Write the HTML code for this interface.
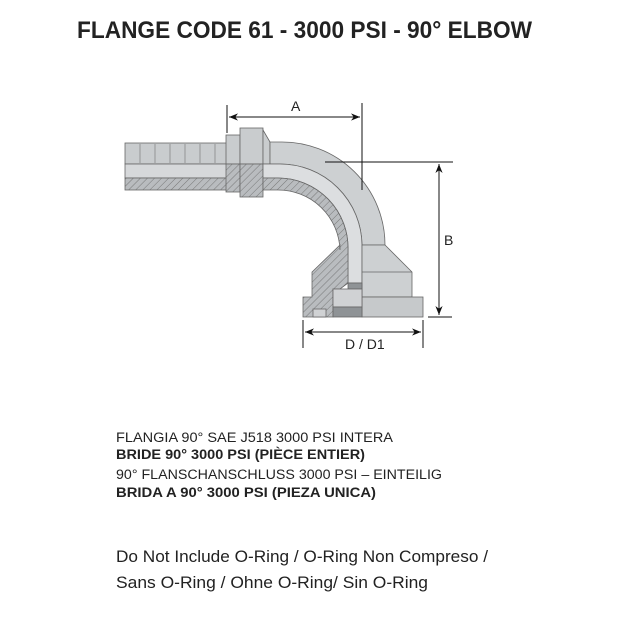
<!DOCTYPE html>
<html><head><meta charset="utf-8"><style>
html,body{margin:0;padding:0;background:#fff;}
svg{display:block;}
</style></head><body>
<svg width="640" height="640" viewBox="0 0 640 640" xmlns="http://www.w3.org/2000/svg">
<defs>
<pattern id="h" width="5" height="5" patternUnits="userSpaceOnUse" patternTransform="rotate(45)">
<rect width="5" height="5" fill="#b9bcbf"/><line x1="0" y1="0" x2="0" y2="5" stroke="#666" stroke-width="0.8"/>
</pattern>
<marker id="ar" viewBox="0 0 10 10" refX="10" refY="5" markerWidth="9" markerHeight="9" orient="auto-start-reverse">
<path d="M0,1 L10,5 L0,9 L3,5 z" fill="#111"/></marker>
</defs>
<text x="77" y="38" font-family="Liberation Sans, sans-serif" font-weight="bold" font-size="24" fill="#222" textLength="455" lengthAdjust="spacingAndGlyphs">FLANGE CODE 61 - 3000 PSI - 90° ELBOW</text>

<g stroke="#666" stroke-width="0.8">
<rect x="125" y="143" width="102" height="21" fill="#c9ccce"/>
<rect x="125" y="164" width="102" height="14" fill="#d6d8da"/>
<rect x="125" y="178" width="102" height="12" fill="url(#h)"/>
<g fill="none" stroke="#888">
<line x1="140" y1="144" x2="140" y2="163"/><line x1="155" y1="144" x2="155" y2="163"/>
<line x1="170" y1="144" x2="170" y2="163"/><line x1="185" y1="144" x2="185" y2="163"/>
<line x1="200" y1="144" x2="200" y2="163"/><line x1="215" y1="144" x2="215" y2="163"/>
</g>
<rect x="226" y="135" width="14" height="29" fill="#c9ccce"/>
<rect x="226" y="164" width="14" height="28" fill="url(#h)"/>
<rect x="240" y="128" width="23" height="36" fill="#c9ccce"/>
<rect x="240" y="164" width="23" height="33" fill="url(#h)"/>
<path d="M263,130 L270,142 L270,164 L263,164z" fill="#c9ccce"/>
<path d="M270,142 L280,142 A103,103 0 0 1 385,245 L362,245 A82,82 0 0 0 280,164 L270,164z" fill="#cdd0d2"/>
<path d="M263,164 L280,164 A82,82 0 0 1 362,245 L362,283 L348,283 L348,250 A70,70 0 0 0 278,178 L263,178z" fill="#dcdee0"/>
<path d="M263,178 L278,178 A70,70 0 0 1 348,250 L348,283 L340,289 L333,289 L333,317 L303,317 L303,297 L312,297 L312,272 L340,245 L340,250 A62,62 0 0 0 278,190 L263,190z" fill="url(#h)"/>
<path d="M362,245 L385,245 L412,272 L412,297 L362,297z" fill="#cdd0d2"/>
<rect x="362" y="297" width="61" height="20" fill="#c6c9cb"/>
<line x1="362" y1="272" x2="412" y2="272"/>
<rect x="348" y="283" width="14" height="6" fill="#8f9396"/>
<rect x="333" y="289" width="29" height="18" fill="#d0d2d4"/>
<rect x="333" y="307" width="29" height="10" fill="#8f9396"/>
<rect x="313" y="309" width="13" height="8" fill="#d0d2d4"/>
</g>

<g stroke="#111" stroke-width="1" fill="none">
<line x1="227" y1="105" x2="227" y2="133"/>
<line x1="362" y1="103" x2="362" y2="190"/>
<line x1="229" y1="117" x2="360" y2="117" marker-start="url(#ar)" marker-end="url(#ar)"/>
<line x1="325" y1="162" x2="453" y2="162"/>
<line x1="428" y1="317" x2="452" y2="317"/>
<line x1="439" y1="164" x2="439" y2="315" marker-start="url(#ar)" marker-end="url(#ar)"/>
<line x1="303" y1="320" x2="303" y2="348"/>
<line x1="423" y1="320" x2="423" y2="348"/>
<line x1="305" y1="332" x2="421" y2="332" marker-start="url(#ar)" marker-end="url(#ar)"/>
</g>
<g font-family="Liberation Sans, sans-serif" font-size="14" fill="#222">
<text x="291" y="111">A</text>
<text x="444" y="245">B</text>
<text x="345" y="349">D / D1</text>
</g>

<g font-family="Liberation Sans, sans-serif" font-size="13.5" fill="#222">
<text x="116" y="442" textLength="277" lengthAdjust="spacingAndGlyphs">FLANGIA 90° SAE J518  3000 PSI INTERA</text>
<text x="116" y="459" font-weight="bold" textLength="249" lengthAdjust="spacingAndGlyphs">BRIDE 90°   3000 PSI (PIÈCE ENTIER)</text>
<text x="116" y="479" textLength="326" lengthAdjust="spacingAndGlyphs">90° FLANSCHANSCHLUSS 3000 PSI – EINTEILIG</text>
<text x="116" y="497" font-weight="bold" textLength="260" lengthAdjust="spacingAndGlyphs">BRIDA  A 90°   3000 PSI (PIEZA UNICA)</text>
</g>
<g font-family="Liberation Sans, sans-serif" font-size="16.5" fill="#222">
<text x="116" y="562" textLength="372" lengthAdjust="spacingAndGlyphs">Do Not Include O-Ring / O-Ring Non Compreso  /</text>
<text x="116" y="588" textLength="312" lengthAdjust="spacingAndGlyphs">Sans O-Ring / Ohne O-Ring/  Sin  O-Ring</text>
</g>
</svg>
</body></html>
